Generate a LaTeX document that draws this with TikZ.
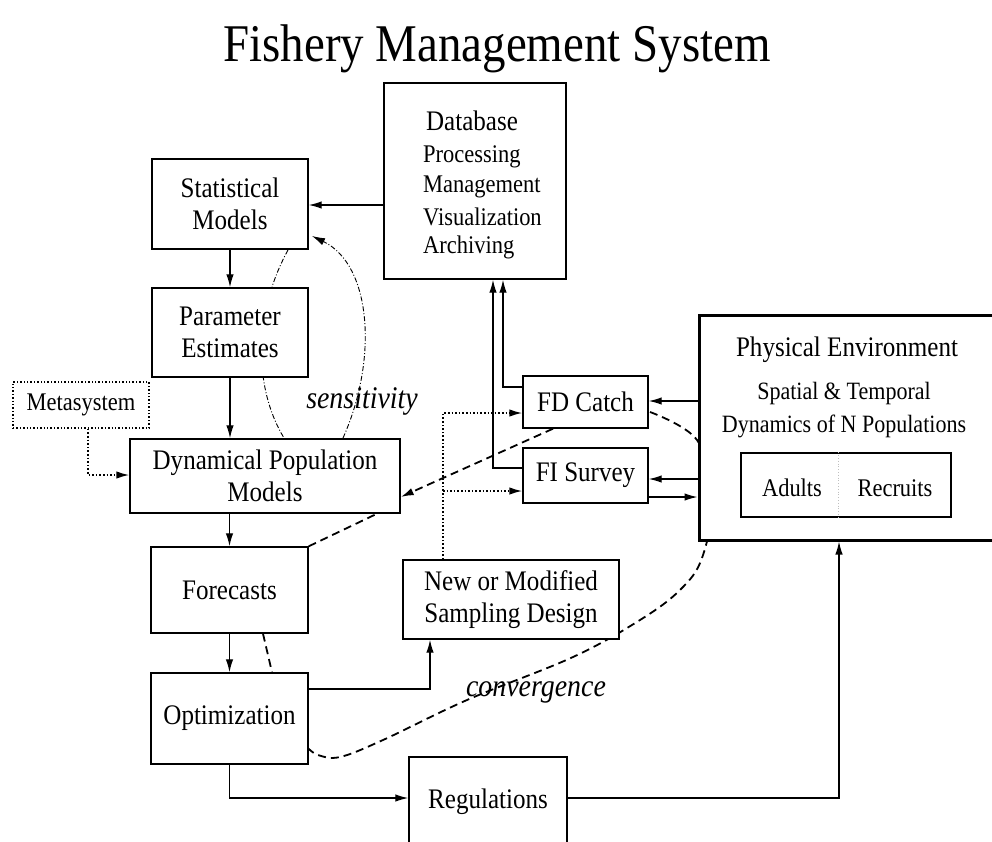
\documentclass[tikz,border=0pt]{standalone}
\usepackage{fontspec}
\setmainfont{Liberation Serif}[FakeStretch=0.885]
\usetikzlibrary{arrows.meta}
\newcommand{\fbig}{\fontsize{28.3}{32.5}\selectfont}
\newcommand{\fmid}{\fontsize{25.4}{30}\selectfont}
\begin{document}
\begin{tikzpicture}[x=1pt,y=-1pt,
  box/.style={draw, line width=1.4pt, fill=white, inner sep=0pt, align=center,
    font=\fbig},
  lbl/.style={inner sep=0pt, align=center},
  tip/.style={-{Latex[length=13pt,width=7.5pt]}},
  arr/.style={line width=1.3pt, tip},
  dotarr/.style={line width=1.6pt, dotted, tip},
  dsh/.style={line width=1.8pt, dash pattern=on 8pt off 5pt},
  sens/.style={line width=0.9pt, dash pattern=on 5pt off 2pt on 1pt off 2pt},
]
\useasboundingbox (0,0) rectangle (992,841);
\begin{scope}
\clip (0,0) rectangle (992,841);

% title
\node[lbl, anchor=base, font=\fontsize{53}{56}\selectfont] (title) at (497,61) {Fishery Management System};

% background curves (sensitivity, convergence)
\draw[sens, tip] (343,438) .. controls (378,360) and (372,265) .. (312,236);
\draw[sens] (288,250) .. controls (255,310) and (252,385) .. (284,438);
\draw[dsh] plot[smooth, tension=0.6] coordinates {(650,412) (697,440) (712,500) (702,558) (680,590) (640,620) (573,657) (467,700) (383,740) (340,757) (318,755) (308,748)};

% boxes
\node[box, minimum width=182pt, minimum height=196pt] (db) at (475,181) {};
\node[lbl, font=\fbig] (dbt) at (472,121) {Database};
\node[lbl, anchor=west, font=\fmid] (db1) at (423,157) {Processing};
\node[lbl, anchor=west, font=\fmid] (db2) at (423,187) {Management};
\node[lbl, anchor=west, font=\fmid] (db3) at (423,217) {Visualization};
\node[lbl, anchor=west, font=\fmid] (db4) at (423,247) {Archiving};

\node[box, minimum width=156pt, minimum height=90pt] (stat) at (230,204) {Statistical\\Models};
\node[box, minimum width=156pt, minimum height=89pt] (param) at (230,332.5) {Parameter\\Estimates};
\node[box, dotted, line width=1.6pt, minimum width=136pt, minimum height=46pt,
  font=\fmid] (meta) at (81,405) {Metasystem};
\node[box, minimum width=270pt, minimum height=74pt] (dyn) at (265,476) {Dynamical Population\\Models};
\node[box, minimum width=157pt, minimum height=86pt] (fore) at (229.5,590) {Forecasts};
\node[box, minimum width=157pt, minimum height=91pt] (opt) at (229.5,718.5) {Optimization};
\node[box, minimum width=216pt, minimum height=79pt] (samp) at (511,599.5) {New or Modified\\Sampling Design};
\node[box, minimum width=158pt, minimum height=90pt] (regs) at (488,802) {Regulations};
\node[box, minimum width=125pt, minimum height=52pt] (fd) at (585.5,402) {FD Catch};
\node[box, minimum width=125pt, minimum height=55pt] (fi) at (585.5,475.5) {FI Survey};

\node[box, line width=3pt, minimum width=311pt, minimum height=225pt] (pe) at (854.5,427.5) {};
\node[lbl, font=\fbig] (pet) at (847,350) {Physical Environment};
\node[lbl, font=\fontsize{24.9}{33}\selectfont] (pes) at (844,410) {Spatial \& Temporal\\Dynamics of N Populations};
\node[box, line width=1.2pt, minimum width=210pt, minimum height=64pt] (ar) at (846,485) {};
\draw[gray!50, dotted, line width=0.8pt] (838,0 |- ar.north) -- (838,0 |- ar.south);
\node[lbl, font=\fmid] (adults) at (792,488) {Adults};
\node[lbl, font=\fmid] (recruits) at (895,488) {Recruits};

% italic labels
\node[lbl, font=\fontsize{31.5}{34}\selectfont\itshape] (senslbl) at (362,401) {sensitivity};
\node[lbl, font=\fontsize{31.5}{34}\selectfont\itshape] (convlbl) at (536,692) {convergence};

% solid connectors
\draw[arr] (db.west |- 0,205) -- (stat.east |- 0,205);
\draw[arr] (stat.south) -- (param.north);
\draw[arr] (param.south) -- (param.south |- dyn.north);
\draw[arr] (fore.north |- dyn.south) -- (fore.north);
\draw[arr] (fore.south) -- (opt.north);
\draw[arr] (opt.south) |- (regs.west |- 0,798);
\draw[arr] (regs.east |- 0,798) -| (839,0 |- pe.south);
\draw[arr] (opt.east |- 0,689) -| (430,0 |- samp.south);
\draw[arr] (fd.west |- 0,387) -| (503,0 |- db.south);
\draw[arr] (fi.west |- 0,468) -| (493,0 |- db.south);
\draw[arr] (pe.west |- 0,401) -- (fd.east |- 0,401);
\draw[arr] (pe.west |- 0,479) -- (fi.east |- 0,479);
\draw[arr] (fi.east |- 0,497) -- (pe.west |- 0,497);

% dotted connectors
\draw[dotarr] (88,0 |- meta.south) |- (dyn.west |- 0,475);
\coordinate (sj) at (443,491);
\draw[dotarr] (443,0 |- samp.north) |- (fd.west |- 0,413);
\draw[dotarr] (sj) -- (fi.west |- 0,491);

% dashed connectors
\draw[dsh, tip] (553,0 |- fd.south) -- (dyn.east |- 0,497);
\draw[dsh] (fore.north east) -- (377,0 |- dyn.south);
\draw[dsh] (263,0 |- fore.south) -- (272,0 |- opt.north);
\end{scope}
\end{tikzpicture}
\end{document}
